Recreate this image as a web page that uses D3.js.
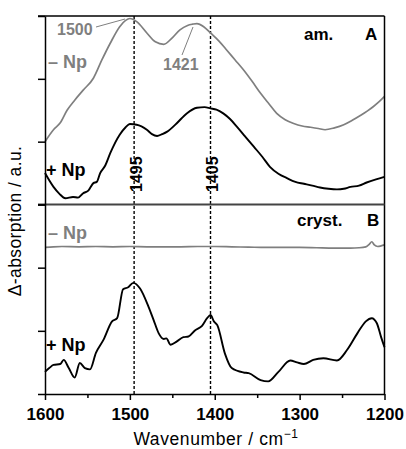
<!DOCTYPE html>
<html>
<head>
<meta charset="utf-8">
<script src="https://cdn.jsdelivr.net/npm/d3@7"></script>
<style>
  html, body { margin: 0; padding: 0; background: #fff; }
  svg { display: block; font-family: "Liberation Sans", Arial, Helvetica, sans-serif; }
</style>
</head>
<body>
<svg id="chart" width="406" height="449"></svg>
<script>
// ---------- data ----------
const xTickLabels = [1600, 1500, 1400, 1300, 1200];
const xMinorTicks = [1550, 1450, 1350, 1250];
const markerLines = [1495, 1405];

// Panel A (amorphous), -Np (grey)
const amMinusWn  = [1600,1590,1582,1574,1565,1555,1543,1533,1523,1512,1505,1500,1492,1480,1470,1460,1451,1441,1432,1426,1421,1413,1405,1395,1386,1376,1366,1356,1346,1336,1327,1317,1307,1297,1287,1278,1270,1259,1248,1238,1228,1220,1213,1206,1200];
const amMinusVal = [1.00,1.19,1.30,1.50,1.66,1.82,2.01,2.30,2.57,2.83,2.93,2.96,2.91,2.73,2.59,2.55,2.64,2.78,2.85,2.87,2.88,2.83,2.73,2.60,2.46,2.30,2.14,1.96,1.77,1.60,1.45,1.35,1.29,1.25,1.23,1.21,1.19,1.22,1.27,1.34,1.42,1.49,1.56,1.64,1.72];

// Panel A, +Np (black)
const amPlusWn  = [1600,1590,1583,1576,1567,1561,1555,1549,1543,1539,1535,1529,1523,1512,1505,1500,1492,1480,1474,1468,1462,1456,1445,1433,1421,1412,1405,1398,1390,1382,1374,1364,1354,1344,1335,1325,1315,1305,1295,1285,1276,1266,1256,1248,1240,1230,1221,1210,1200];
const amPlusVal = [0.50,0.28,0.17,0.10,0.12,0.11,0.18,0.22,0.34,0.36,0.50,0.62,0.82,1.11,1.23,1.28,1.27,1.19,1.12,1.09,1.12,1.16,1.29,1.45,1.54,1.55,1.53,1.51,1.45,1.36,1.24,1.08,0.92,0.76,0.60,0.49,0.42,0.36,0.33,0.30,0.27,0.25,0.24,0.25,0.28,0.30,0.35,0.40,0.44];

// Panel B (crystalline), -Np (grey)
const crMinusWn  = [1600,1590,1580,1560,1540,1520,1500,1480,1460,1440,1420,1400,1380,1360,1340,1320,1300,1280,1260,1250,1240,1230,1222,1218,1215,1212,1208,1204,1200];
const crMinusVal = [2.32,2.33,2.335,2.33,2.335,2.33,2.335,2.33,2.33,2.33,2.335,2.335,2.33,2.325,2.32,2.32,2.32,2.315,2.31,2.31,2.31,2.315,2.33,2.37,2.41,2.36,2.335,2.345,2.36];

// Panel B, +Np (black)
const crPlusWn  = [1600,1595,1590,1582,1578,1572,1565,1559,1553,1547,1540,1531,1521,1515,1508,1502,1496,1488,1478,1472,1466,1460,1457,1452,1445,1437,1431,1423,1415,1409,1405,1401,1397,1388,1380,1366,1360,1346,1337,1325,1311,1303,1295,1284,1272,1256,1244,1232,1222,1215,1209,1204,1200];
const crPlusVal = [0.35,0.41,0.46,0.475,0.54,0.41,0.26,0.49,0.41,0.39,0.65,0.86,1.15,1.20,1.66,1.69,1.76,1.67,1.38,1.17,0.96,0.87,0.88,0.78,0.83,0.90,0.91,1.01,1.08,1.20,1.25,1.15,1.09,0.64,0.41,0.34,0.33,0.22,0.20,0.35,0.53,0.50,0.475,0.54,0.565,0.53,0.70,0.96,1.15,1.20,1.12,0.90,0.74];

// ---------- layout ----------
const svg = d3.select("#chart");
const padL = 45, padR = 384.5, padT = 16, midY = 204.5, padB = 394;
const grey = "#7f7f7f";

const x = d3.scaleLinear().domain([1600, 1200]).range([padL, padR]);
const yA = d3.scaleLinear().domain([0, 3]).range([midY, padT]);
const yB = d3.scaleLinear().domain([0, 3]).range([padB, midY]);

const line = (ys) => d3.line().x(d => x(d[0])).y(d => ys(d[1])).curve(d3.curveMonotoneX);
const zip = (a, b) => a.map((v, i) => [v, b[i]]);

// marker dashed lines
svg.selectAll(".marker").data(markerLines).join("line")
  .attr("x1", d => x(d)).attr("x2", d => x(d))
  .attr("y1", padT).attr("y2", padB)
  .attr("stroke", "#000").attr("stroke-width", 1.4).attr("stroke-dasharray", "3,2");

// curves
svg.append("path").datum(zip(amMinusWn, amMinusVal)).attr("d", line(yA))
  .attr("fill", "none").attr("stroke", grey).attr("stroke-width", 1.7);
svg.append("path").datum(zip(amPlusWn, amPlusVal)).attr("d", line(yA))
  .attr("fill", "none").attr("stroke", "#000").attr("stroke-width", 1.9);
svg.append("path").datum(zip(crMinusWn, crMinusVal)).attr("d", line(yB))
  .attr("fill", "none").attr("stroke", grey).attr("stroke-width", 1.7);
svg.append("path").datum(zip(crPlusWn, crPlusVal)).attr("d", line(yB))
  .attr("fill", "none").attr("stroke", "#000").attr("stroke-width", 1.9);

// frame: top & right
svg.append("line").attr("x1", padL - 7).attr("x2", padR).attr("y1", padT).attr("y2", padT)
  .attr("stroke", "#000").attr("stroke-width", 1.5);
svg.append("line").attr("x1", padR).attr("x2", padR).attr("y1", padT).attr("y2", padB)
  .attr("stroke", "#000").attr("stroke-width", 1.5);
// divider
svg.append("line").attr("x1", padL - 7).attr("x2", padR).attr("y1", midY).attr("y2", midY)
  .attr("stroke", "#444").attr("stroke-width", 2);

// y axes (ticks only)
function yAxis(scale) {
  const g = svg.append("g").attr("transform", `translate(${padL},0)`)
    .call(d3.axisLeft(scale).tickValues([0, 1, 2, 3]).tickSize(7).tickSizeOuter(0).tickFormat(""));
  g.select(".domain").attr("stroke", "#000").attr("stroke-width", 1.5);
  g.selectAll(".tick line").attr("stroke", "#000").attr("stroke-width", 1.5);
}
yAxis(yA);
yAxis(yB);

// x axis
const xg = svg.append("g").attr("transform", `translate(0,${padB})`)
  .call(d3.axisBottom(x).tickValues(xTickLabels).tickSize(6).tickSizeOuter(0).tickPadding(8).tickFormat(d3.format("d")));
xg.select(".domain").attr("stroke", "#000").attr("stroke-width", 1.5);
xg.selectAll(".tick line").attr("stroke", "#000").attr("stroke-width", 1.5);
xg.selectAll("text").attr("font-size", 17).attr("font-weight", "bold").attr("fill", "#000")
  .attr("font-family", "Liberation Sans, Arial, sans-serif");
const xm = svg.append("g").attr("transform", `translate(0,${padB})`)
  .call(d3.axisBottom(x).tickValues(xMinorTicks).tickSize(4).tickSizeOuter(0).tickFormat(""));
xm.select(".domain").remove();
xm.selectAll(".tick line").attr("stroke", "#000").attr("stroke-width", 1.5);

// axis titles
const xt = svg.append("text").attr("x", 216).attr("y", 445).attr("text-anchor", "middle")
  .attr("font-size", 17.5).attr("fill", "#000").attr("letter-spacing", 0.6);
xt.append("tspan").text("Wavenumber / cm");
xt.append("tspan").attr("dy", -7).attr("font-size", 12).text("\u22121");

svg.append("text").attr("transform", "translate(21,221) rotate(-90)").attr("text-anchor", "middle")
  .attr("font-size", 17.5).attr("fill", "#000").attr("letter-spacing", 0.4)
  .text("\u0394-absorption / a.u.");

// labels
function label(txt, px, py, opts = {}) {
  return svg.append("text").attr("x", px).attr("y", py)
    .attr("font-size", opts.size || 17).attr("font-weight", "bold")
    .attr("fill", opts.color || "#000").attr("text-anchor", opts.anchor || "start")
    .text(txt);
}
label("am.", 304, 40);
label("A", 365, 40);
label("cryst.", 297, 226);
label("B", 367, 226);
label("\u2013 Np", 48, 68, { color: grey, size: 18 });
label("+ Np", 46, 176, { size: 18 });
label("\u2013 Np", 48, 239, { color: grey, size: 18 });
label("+ Np", 46, 351, { size: 18 });
label("1500", 57, 35, { color: grey, size: 16 });
label("1421", 163, 70, { color: grey, size: 16 });

// leader lines
svg.append("line").attr("x1", 96).attr("y1", 27).attr("x2", 125).attr("y2", 19)
  .attr("stroke", grey).attr("stroke-width", 1);
svg.append("line").attr("x1", 182).attr("y1", 55).attr("x2", 193).attr("y2", 27)
  .attr("stroke", grey).attr("stroke-width", 1);

// rotated marker labels
markerLines.forEach(v => {
  svg.append("text").attr("transform", `translate(${x(v) + 7.5},192) rotate(-90)`)
    .attr("font-size", 16).attr("font-weight", "bold").attr("fill", "#000")
    .text(String(v));
});
</script>
</body>
</html>
